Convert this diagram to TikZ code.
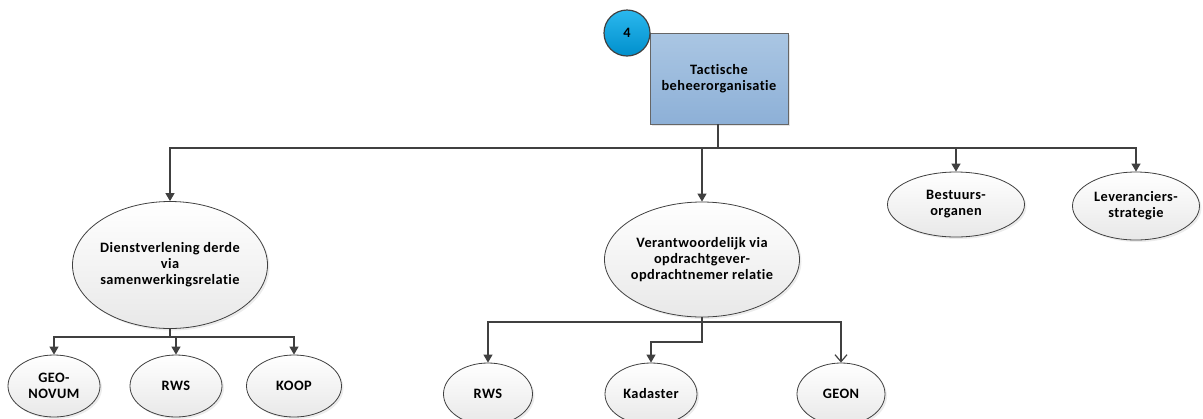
\documentclass[tikz,border=0pt]{standalone}
\usepackage{fontspec}
\setmainfont{Carlito}[Ligatures=NoCommon, LetterSpace=3]
\usetikzlibrary{arrows.meta,shapes.geometric,shadows}
\definecolor{linegray}{HTML}{404040}
\definecolor{boxtop}{HTML}{AAC6E3}
\definecolor{boxbot}{HTML}{8DB0D7}
\definecolor{numtop}{HTML}{2BB8EE}
\definecolor{numbot}{HTML}{008FCC}

\tikzset{
  every node/.style={font=\fontsize{14.4}{16}\selectfont\bfseries, text=black, align=center},
  unit/.style={ellipse, draw=linegray, line width=0.8bp, inner sep=-16pt,
    top color=white, bottom color=gray!18,
    drop shadow={opacity=0.15, shadow xshift=2bp, shadow yshift=-2bp}},
  org/.style={rectangle, draw=linegray!80, line width=0.8bp, top color=boxtop, bottom color=boxbot,
    minimum width=138bp, minimum height=91bp,
    drop shadow={opacity=0.2, shadow xshift=2bp, shadow yshift=-2bp}},
  badge/.style={circle, draw=linegray, line width=1.2bp, top color=numtop, bottom color=numbot,
    minimum size=46bp, inner sep=0pt},
  link/.style={draw=linegray, line width=1.2bp, -{Triangle[length=8bp,width=9bp]}},
  openlink/.style={draw=linegray, line width=1.2bp, -{Straight Barb[length=7bp,width=12bp]}}
}

\begin{document}
\begin{tikzpicture}[x=1bp, y=-1bp]
		\useasboundingbox (0,0) rectangle (1203,418);
		\node[org] (tactisch) at (719,78.5) {Tactische\\beheerorganisatie};
		\node[badge] (nummer) at (627,33) {4};
		\node[unit, minimum width=195bp, minimum height=127bp] (dienst) at (170,265) {Dienstverlening derde\\via\\samenwerkingsrelatie};
		\node[unit, minimum width=195bp, minimum height=115bp] (verant) at (702,259.5) {Verantwoordelijk via\\opdrachtgever-\\opdrachtnemer relatie};
		\node[unit, minimum width=137bp, minimum height=65bp] (bestuur) at (956,204.5) {Bestuurs-\\organen};
		\node[unit, minimum width=127bp, minimum height=68bp] (lever) at (1136,206) {Leveranciers-\\strategie};
		\node[unit, minimum width=92bp, minimum height=62bp] (geonovum) at (54,386) {GEO-\\NOVUM};
		\node[unit, minimum width=92bp, minimum height=62bp] (rwsa) at (176,386) {RWS};
		\node[unit, minimum width=95bp, minimum height=62bp] (koop) at (294,386) {KOOP};
		\node[unit, minimum width=89bp, minimum height=62bp] (rwsb) at (488,394) {RWS};
		\node[unit, minimum width=92bp, minimum height=62bp] (kadaster) at (651,394) {Kadaster};
		\node[unit, minimum width=88bp, minimum height=62bp] (geon) at (841,394) {GEON};
		\coordinate (hoofdlijn) at (718,148);
		\coordinate (dienstlijn) at (170,337);
		\coordinate (verantlijn) at (702,322);
		\coordinate (kadasterknik) at (702,342);
		\draw[draw=linegray, line width=1.2bp] (tactisch.south -| hoofdlijn) -- (hoofdlijn);
		\draw[link] (hoofdlijn) -| (dienst.north);
		\draw[link] (hoofdlijn) -| (verant.north);
		\draw[link] (hoofdlijn) -| (bestuur.north);
		\draw[link] (hoofdlijn) -| (lever.north);
		\draw[draw=linegray, line width=1.2bp] (dienst.south) -- (dienstlijn);
		\draw[link] (dienstlijn) -| (geonovum.north);
		\draw[link] (dienstlijn) -| (rwsa.north);
		\draw[link] (dienstlijn) -| (koop.north);
		\draw[draw=linegray, line width=1.2bp] (verant.south) -- (verantlijn);
		\draw[link] (verantlijn) -| (rwsb.north);
		\draw[link] (verantlijn) -- (kadasterknik) -| (kadaster.north);
		\draw[openlink] (verantlijn) -| (geon.north);
\end{tikzpicture}
\end{document}
